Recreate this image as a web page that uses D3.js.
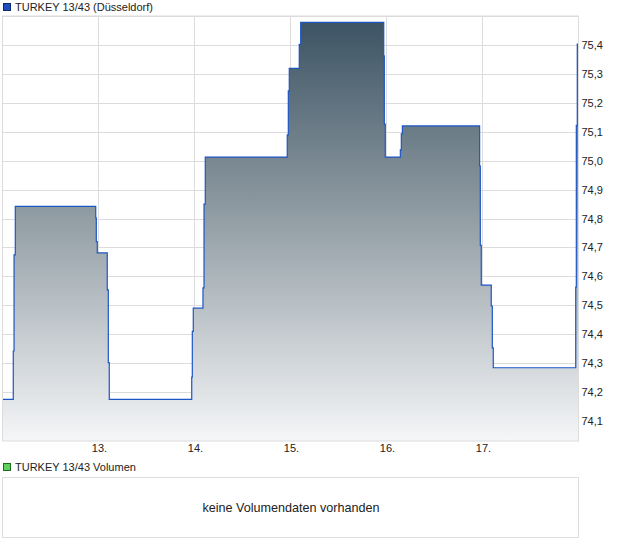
<!DOCTYPE html>
<html>
<head>
<meta charset="utf-8">
<script src="https://cdn.jsdelivr.net/npm/d3@7"></script>
<style>
  html, body { margin: 0; padding: 0; background: #ffffff; }
  svg { display: block; font-family: "Liberation Sans", Arial, sans-serif; }
</style>
</head>
<body>
<svg id="chart" width="620" height="546"></svg>
<script>
// ---- data (time as fractional day of month, value as price) ----
const times = [
  12.000, 12.107, 12.115, 12.128, 12.966, 12.972, 12.982,
  13.086, 13.097, 13.107, 13.966, 13.972, 13.982, 14.083, 14.094, 14.107,
  14.961, 14.972, 14.982, 15.086, 15.101,
  15.966, 15.972, 15.982, 16.139, 16.149, 16.160,
  16.965, 16.972, 16.982, 17.086, 17.097, 17.107,
  17.966, 17.972, 17.982, 17.995
];
const values = [
  74.175, 74.342, 74.674, 74.842, 74.802, 74.720, 74.681,
  74.553, 74.302, 74.175, 74.252, 74.410, 74.490, 74.560, 74.850, 75.0125,
  75.089, 75.241, 75.319, 75.402, 75.478,
  75.362, 75.126, 75.0125, 75.037, 75.093, 75.120,
  74.981, 74.707, 74.570, 74.4975, 74.353, 74.284,
  74.563, 75.122, 75.403, 75.403
];
const dayTicks = [13, 14, 15, 16, 17];
const dayLabels = ["13.", "14.", "15.", "16.", "17."];
const priceTicks = [74.1, 74.2, 74.3, 74.4, 74.5, 74.6, 74.7, 74.8, 74.9, 75.0, 75.1, 75.2, 75.3, 75.4, 75.5];
const priceLabels = ["74,1", "74,2", "74,3", "74,4", "74,5", "74,6", "74,7", "74,8", "74,9", "75,0", "75,1", "75,2", "75,3", "75,4", ""];
const title = "TURKEY 13/43 (Düsseldorf)";
const volTitle = "TURKEY 13/43 Volumen";
const volMessage = "keine Volumendaten vorhanden";

const data = times.map((t, i) => ({ t, v: values[i] }));

// ---- layout ----
const svg = d3.select("#chart");
const plot = { left: 2.5, right: 578.5, top: 16, bottom: 441 };

const x = d3.scaleLinear().domain([12, 18]).range([plot.left + 0.5, plot.right + 0.5]);
const y = d3.scaleLinear().domain([74.1, 75.5]).range([421, 16]);

// gradient
const defs = svg.append("defs");
const grad = defs.append("linearGradient")
  .attr("id", "fillGrad")
  .attr("gradientUnits", "userSpaceOnUse")
  .attr("x1", 0).attr("x2", 0)
  .attr("y1", 20).attr("y2", plot.bottom);
grad.append("stop").attr("offset", "0%").attr("stop-color", "#3c5364");
grad.append("stop").attr("offset", "45%").attr("stop-color", "#8e9aa1");
grad.append("stop").attr("offset", "100%").attr("stop-color", "#f5f6f8");

defs.append("clipPath").attr("id", "plotClip")
  .append("rect")
  .attr("x", plot.left).attr("y", plot.top)
  .attr("width", plot.right - plot.left).attr("height", plot.bottom - plot.top);

// title legend
svg.append("rect").attr("x", 3.5).attr("y", 3.5).attr("width", 7).attr("height", 7)
  .attr("fill", "#1f4fbf").attr("stroke", "#0d2a70").attr("stroke-width", 1);
svg.append("text").attr("x", 15).attr("y", 11).attr("font-size", 11).attr("fill", "#222")
  .text(title);

// gridlines
const gridG = svg.append("g");
gridG.selectAll("line.h").data(priceTicks).enter().append("line")
  .attr("x1", plot.left).attr("x2", plot.right)
  .attr("y1", d => Math.round(y(d)) + 0.5).attr("y2", d => Math.round(y(d)) + 0.5)
  .attr("stroke", "#dcdcdc").attr("stroke-width", 1);
gridG.selectAll("line.v").data(dayTicks).enter().append("line")
  .attr("y1", plot.top).attr("y2", plot.bottom)
  .attr("x1", d => Math.round(x(d)) - 0.5).attr("x2", d => Math.round(x(d)) - 0.5)
  .attr("stroke", "#dcdcdc").attr("stroke-width", 1);

// area + line
const area = d3.area().x(d => x(d.t)).y0(plot.bottom).y1(d => y(d.v)).curve(d3.curveStepAfter);
const line = d3.line().x(d => x(d.t)).y(d => y(d.v)).curve(d3.curveStepAfter);

const g = svg.append("g").attr("clip-path", "url(#plotClip)");
g.append("path").datum(data).attr("d", area).attr("fill", "url(#fillGrad)");
g.append("path").datum(data).attr("d", line).attr("fill", "none")
  .attr("stroke", "#1c55c4").attr("stroke-width", 1.2);

// plot frame
svg.append("rect").attr("x", plot.left).attr("y", plot.top)
  .attr("width", plot.right - plot.left).attr("height", plot.bottom - plot.top)
  .attr("fill", "none").attr("stroke", "#dcdcdc").attr("stroke-width", 1);

// right axis labels
const yAxis = d3.axisRight(y).tickValues(priceTicks)
  .tickFormat((d, i) => priceLabels[i]).tickSize(0).tickPadding(3);
const ya = svg.append("g").attr("transform", `translate(${plot.right},0)`).call(yAxis);
ya.select(".domain").remove();
ya.selectAll("text").attr("font-size", 11).attr("fill", "#222")
  .attr("font-family", "Liberation Sans, Arial, sans-serif");

// bottom axis labels
const xAxis = d3.axisBottom(x).tickValues(dayTicks)
  .tickFormat((d, i) => dayLabels[i]).tickSize(0).tickPadding(3);
const xa = svg.append("g").attr("transform", `translate(0,${plot.bottom})`).call(xAxis);
xa.select(".domain").remove();
xa.selectAll("text").attr("font-size", 11).attr("fill", "#222")
  .attr("font-family", "Liberation Sans, Arial, sans-serif");

// volume panel
svg.append("rect").attr("x", 3.5).attr("y", 463.5).attr("width", 7).attr("height", 7)
  .attr("fill", "#5fcf5f").attr("stroke", "#1d6b1d").attr("stroke-width", 1);
svg.append("text").attr("x", 15).attr("y", 471).attr("font-size", 11).attr("fill", "#222")
  .text(volTitle);
svg.append("rect").attr("x", 2.5).attr("y", 477.5).attr("width", 576).attr("height", 60)
  .attr("fill", "none").attr("stroke", "#dcdcdc").attr("stroke-width", 1);
svg.append("text").attr("x", 291).attr("y", 511.5).attr("text-anchor", "middle")
  .attr("font-size", 12.6).attr("fill", "#222").text(volMessage);
</script>
</body>
</html>
